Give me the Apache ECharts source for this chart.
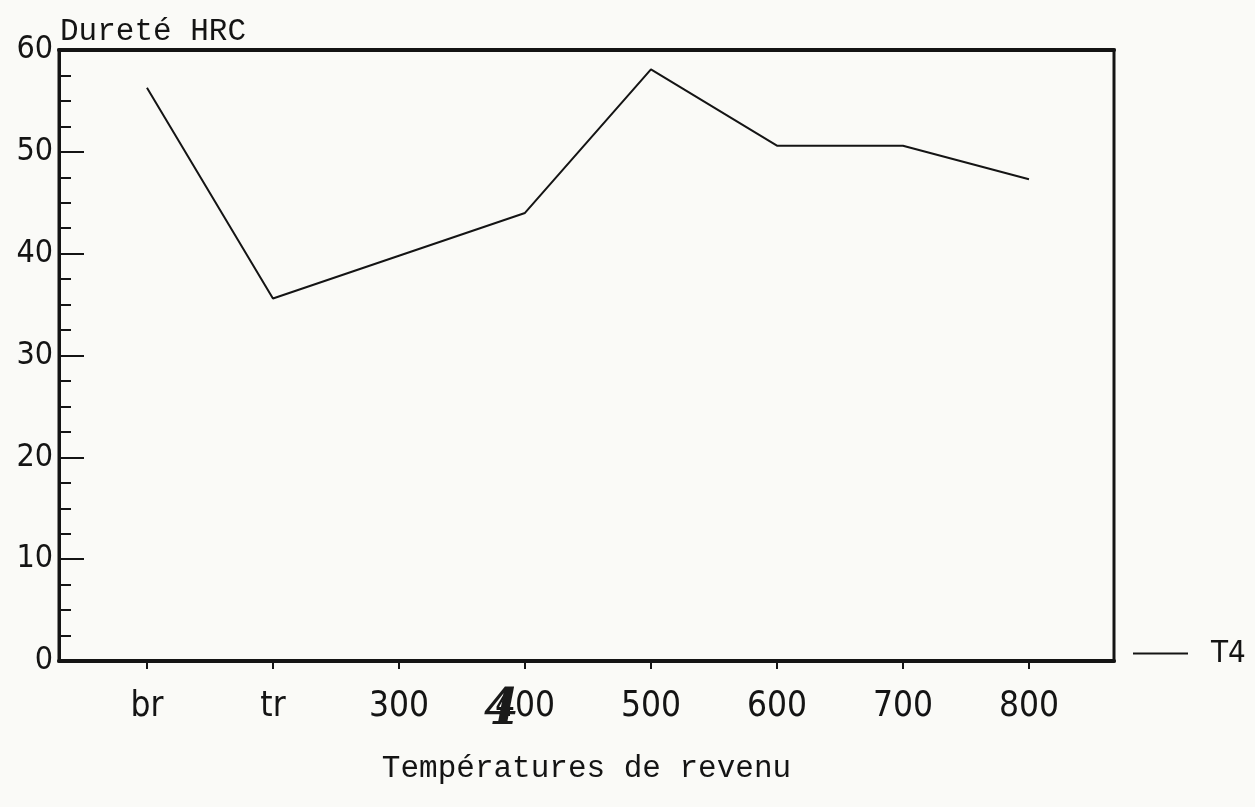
<!DOCTYPE html>
<html>
<head>
<meta charset="utf-8">
<title>Dureté HRC – T4</title>
<script src="https://cdn.jsdelivr.net/npm/echarts@6/dist/echarts.min.js"></script>
<style>
  html, body { margin: 0; padding: 0; background: #fafaf7; }
  #chart { width: 1255px; height: 807px; }
</style>
</head>
<body>
<div id="chart"></div>
<script>
// Tempering temperatures (br = brut, tr = trempé) and HRC hardness of sample T4
const categories = ['br', 'tr', '300', '400', '500', '600', '700', '800'];
const hardnessT4 = [56.3, 35.6, 39.8, 44.0, 58.1, 50.6, 50.6, 47.3];
const yTicks = [0, 10, 20, 30, 40, 50, 60];

const ink = '#141414';
const digitFont = '"Liberation Sans Narrow", "DejaVu Sans Condensed", sans-serif';
const textFont = '"Liberation Mono", "DejaVu Sans Mono", monospace';
const positions = categories.map((_, i) => i);

const chart = echarts.init(document.getElementById('chart'), null, { renderer: 'canvas' });

chart.setOption({
  backgroundColor: '#fafaf7',
  animation: false,
  title: {
    text: 'Dureté HRC',
    left: 55,
    top: 11,
    textStyle: { fontFamily: textFont, fontSize: 31, fontWeight: 'normal', color: ink }
  },
  legend: {
    data: [{ name: 'T4', icon: 'rect' }],
    left: 1128,
    top: 633,
    itemWidth: 55,
    itemHeight: 2,
    itemGap: 10,
    textStyle: { fontFamily: digitFont, fontSize: 31, color: ink, padding: [0, 0, 0, 18] }
  },
  grid: {
    left: 59, right: 141, top: 50, bottom: 146,
    show: true,
    borderColor: ink,
    borderWidth: 3,
    backgroundColor: 'transparent'
  },
  xAxis: [
    {
      type: 'value',
      position: 'bottom',
      min: -0.698,
      max: 7.675,
      splitLine: { show: false },
      axisLine: { show: true, onZero: false, lineStyle: { color: ink, width: 4 } },
      axisTick: { show: true, customValues: positions, length: 8, lineStyle: { color: ink, width: 2 } },
      axisLabel: {
        customValues: positions,
        margin: 28,
        fontFamily: digitFont,
        fontSize: 35,
        color: ink,
        formatter: v => categories[Math.round(v)] ?? ''
      },
      name: 'Températures de revenu',
      nameLocation: 'middle',
      nameGap: 92,
      nameTextStyle: { fontFamily: textFont, fontSize: 31, color: ink }
    },
    {
      type: 'value',
      position: 'top',
      min: -0.698,
      max: 7.675,
      splitLine: { show: false },
      axisLine: { show: true, onZero: false, lineStyle: { color: ink, width: 4 } },
      axisTick: { show: false },
      axisLabel: { show: false }
    }
  ],
  yAxis: {
    type: 'value',
    min: 0,
    max: 60,
    interval: 10,
    splitLine: { show: false },
    axisLine: { show: true, onZero: false, lineStyle: { color: ink, width: 3 } },
    axisTick: { show: true, inside: true, length: 25, lineStyle: { color: ink, width: 2 } },
    minorTick: { show: true, splitNumber: 4, length: 12, lineStyle: { color: ink, width: 2 } },
    axisLabel: {
      margin: 6,
      fontFamily: digitFont,
      fontSize: 32,
      color: ink,
      formatter: v => (yTicks.includes(v) ? String(v) : '')
    }
  },
  graphic: [
    {
      // handwritten page number over the "400" label
      type: 'text',
      left: 484,
      top: 686,
      z: 10,
      style: {
        text: '4',
        font: 'italic bold 50px "DejaVu Serif", serif',
        fill: '#1a1a1a'
      }
    }
  ],
  series: [
    {
      name: 'T4',
      type: 'line',
      xAxisIndex: 0,
      data: hardnessT4.map((v, i) => [positions[i], v]),
      symbol: 'none',
      lineStyle: { color: ink, width: 2 },
      itemStyle: { color: ink }
    }
  ]
});
</script>
</body>
</html>
